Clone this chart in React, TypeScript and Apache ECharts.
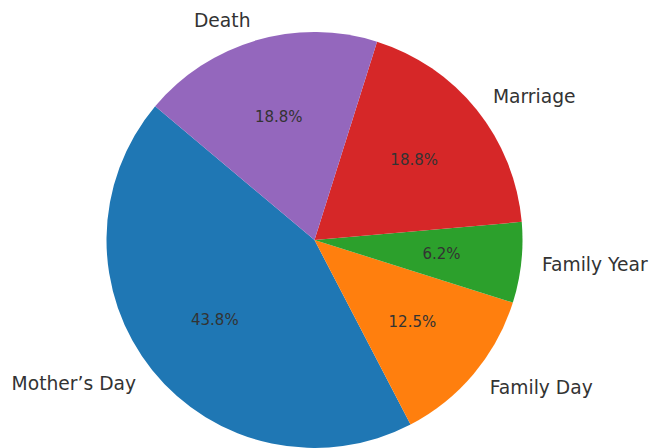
import React, { useEffect, useRef } from "react";
import * as echarts from "echarts";

const categories = ["Mother’s Day", "Family Day", "Family Year", "Marriage", "Death"];
const counts = [7, 2, 1, 3, 3];
const colors = ["#1f77b4", "#ff7f0e", "#2ca02c", "#d62728", "#9467bd"];

const CX = 314.5;
const CY = 240;
const R = 208;

function pctLabel(v: number, total: number): string {
  const x = (v / total) * 1000;
  const f = Math.floor(x);
  const diff = x - f;
  let n: number;
  if (Math.abs(diff - 0.5) < 1e-9) n = f % 2 === 0 ? f : f + 1;
  else n = Math.round(x);
  return (n / 10).toFixed(1) + "%";
}

export default function App() {
  const ref = useRef<HTMLDivElement>(null);
  useEffect(() => {
    if (!ref.current) return;
    const chart = echarts.init(ref.current, undefined, { renderer: "svg" });
    const total = counts.reduce((a, b) => a + b, 0);
    const data = categories.map((name, i) => ({
      name,
      value: counts[i],
      itemStyle: { color: colors[i] },
    }));
    const transparentData = categories.map((name, i) => ({
      name,
      value: counts[i],
      itemStyle: { color: "rgba(0,0,0,0)" },
    }));
    chart.setOption({
      animation: false,
      backgroundColor: "#ffffff",
      series: [
        {
          type: "pie",
          center: [CX, CY],
          radius: [0, R],
          startAngle: 140,
          clockwise: false,
          avoidLabelOverlap: false,
          silent: true,
          data,
          label: {
            show: true,
            position: "outside",
            formatter: "{b}",
            fontFamily: "DejaVu Sans",
            fontSize: 18.7,
            color: "#333333",
            distanceToLabelLine: 0,
          },
          labelLine: { show: false, length: R * 0.1, length2: 0 },
          emphasis: { disabled: true },
        },
        {
          type: "pie",
          center: [CX, CY],
          radius: [0, R * 1.2],
          startAngle: 140,
          clockwise: false,
          avoidLabelOverlap: false,
          silent: true,
          z: 3,
          data: transparentData,
          label: {
            show: true,
            position: "inside",
            formatter: (p: any) => pctLabel(p.value, total),
            fontFamily: "DejaVu Sans",
            fontSize: 15,
            color: "#333333",
          },
          labelLine: { show: false },
          emphasis: { disabled: true },
        },
      ],
    });
    return () => chart.dispose();
  }, []);
  return (
    <div
      ref={ref}
      style={{ position: "fixed", left: 0, top: 0, width: 649, height: 448, background: "#fff" }}
    />
  );
}
